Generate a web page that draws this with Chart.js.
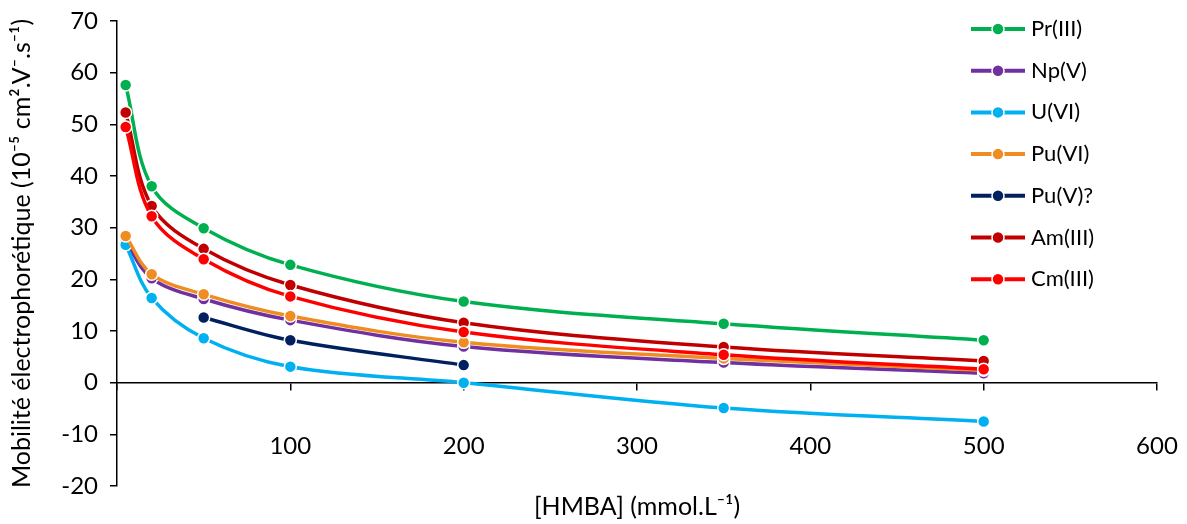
<!DOCTYPE html>
<html>
<head>
<meta charset="utf-8">
<script src="https://cdn.jsdelivr.net/npm/chart.js@4.4.1/dist/chart.umd.min.js"></script>
<style>
html, body { margin: 0; padding: 0; background: #ffffff; }
#wrap { width: 1187px; height: 524px; position: relative; }
</style>
</head>
<body>
<div id="wrap"><canvas id="c"></canvas></div>
<script>
// ---- Data ----
const concentrations = [5, 20, 50, 100, 200, 350, 500];
const puVConcentrations = [50, 100, 200];

const prIII  = [57.6, 38.0, 29.9, 22.8, 15.7, 11.4, 8.2];
const npV    = [27.3, 20.2, 16.2, 12.1, 7.0, 3.9, 1.8];
const uVI    = [26.7, 16.4, 8.6, 3.1, 0.0, -4.9, -7.5];
const puVI   = [28.4, 21.0, 17.1, 12.9, 7.8, 4.7, 2.4];
const puV    = [12.6, 8.2, 3.4];
const amIII  = [52.3, 34.2, 25.9, 18.9, 11.6, 6.9, 4.2];
const cmIII  = [49.5, 32.2, 23.9, 16.7, 9.8, 5.4, 2.6];

const seriesNames  = ['Pr(III)', 'Np(V)', 'U(VI)', 'Pu(VI)', 'Pu(V)?', 'Am(III)', 'Cm(III)'];
const seriesX      = [concentrations, concentrations, concentrations, concentrations, puVConcentrations, concentrations, concentrations];
const seriesY      = [prIII, npV, uVI, puVI, puV, amIII, cmIII];
const seriesColors = ['#00B050', '#7030A0', '#00B0F0', '#EF8C22', '#002060', '#C00000', '#FF0000'];

const xTickStep = 100, xMin = 0, xMax = 600;
const yTickStep = 10, yMin = -20, yMax = 70;

const xTitle = '[HMBA] (mmol.L⁻¹)';
const yTitle = 'Mobilité électrophorétique (10⁻⁵ cm².V⁻.s⁻¹)';

// ---- Styling ----
const FONT = 'Lato, "Open Sans", sans-serif';
const FONT_SIZE = 24;
const TITLE_FONT_SIZE = 25;
const LEGEND_FONT_SIZE = 22;
const TEXT_COLOR = '#000000';

const datasets = seriesNames.map((name, i) => ({
  label: name,
  data: seriesX[i].map((x, j) => ({ x: x, y: seriesY[i][j] })),
  borderColor: seriesColors[i],
  backgroundColor: seriesColors[i],
  pointBackgroundColor: seriesColors[i],
  pointBorderColor: '#ffffff',
  pointBorderWidth: 1.5,
  pointRadius: 6,
  pointHoverRadius: 6,
  borderWidth: 3.5,
  tension: 0.35,
  fill: false,
  order: seriesNames.length - i
}));

const sideLegend = {
  id: 'sideLegend',
  afterDraw(chart) {
    const ctx = chart.ctx;
    const top = 29, step = 41.7, x0 = 971, x1 = 1025, xc = 998, xt = 1031;
    chart.data.datasets.forEach((ds, i) => {
      const y = top + i * step;
      ctx.save();
      ctx.strokeStyle = ds.borderColor;
      ctx.lineWidth = 4;
      ctx.beginPath(); ctx.moveTo(x0, y); ctx.lineTo(x1, y); ctx.stroke();
      ctx.beginPath(); ctx.arc(xc, y, 6, 0, Math.PI * 2);
      ctx.fillStyle = ds.borderColor; ctx.fill();
      ctx.strokeStyle = '#ffffff'; ctx.lineWidth = 1.5; ctx.stroke();
      ctx.fillStyle = TEXT_COLOR;
      ctx.font = LEGEND_FONT_SIZE + 'px ' + FONT;
      ctx.textBaseline = 'middle';
      ctx.textAlign = 'left';
      ctx.fillText(ds.label, xt, y);
      ctx.restore();
    });
  }
};

const tickFont = { family: FONT, size: FONT_SIZE };
const titleFont = { family: FONT, size: TITLE_FONT_SIZE };

new Chart(document.getElementById('c'), {
  type: 'line',
  data: { datasets: datasets },
  plugins: [sideLegend],
  options: {
    responsive: true,
    maintainAspectRatio: false,
    animation: false,
    layout: { padding: { top: 21, right: 30, bottom: 0, left: 0 } },
    plugins: {
      legend: { display: false },
      tooltip: { enabled: false }
    },
    scales: {
      x: {
        type: 'linear',
        min: xMin, max: xMax,
        position: { y: 0 },
        ticks: {
          stepSize: xTickStep, padding: 42, color: TEXT_COLOR, font: tickFont,
          maxRotation: 0, autoSkip: false,
          callback: v => (v === 0 ? '' : v)
        },
        grid: { drawOnChartArea: false, drawTicks: true, tickLength: 7, color: '#000', lineWidth: 1.5 },
        border: { display: true, color: '#000', width: 1.5 },
        afterFit: s => { s.height = 0; s.paddingLeft = 0; s.paddingRight = 0; }
      },
      x2: {
        type: 'linear',
        min: xMin, max: xMax,
        position: 'bottom',
        ticks: { display: false },
        grid: { display: false, drawTicks: false },
        border: { display: false },
        title: { display: true, text: xTitle, color: TEXT_COLOR, font: titleFont, padding: { top: 0, bottom: 2 } },
        afterFit: s => { s.height = 38; s.paddingLeft = 0; s.paddingRight = 0; }
      },
      y: {
        type: 'linear',
        min: yMin, max: yMax,
        position: 'left',
        ticks: { stepSize: yTickStep, padding: 12, color: TEXT_COLOR, font: tickFont },
        grid: { drawOnChartArea: false, drawTicks: true, tickLength: 7, color: '#000', lineWidth: 1.5 },
        border: { display: true, color: '#000', width: 1.5 },
        title: { display: true, text: yTitle, color: TEXT_COLOR, font: titleFont, padding: { top: 7, bottom: 0 } },
        afterFit: s => { s.width = 117; s.paddingTop = 0; s.paddingBottom = 0; }
      }
    }
  }
});
</script>
</body>
</html>
